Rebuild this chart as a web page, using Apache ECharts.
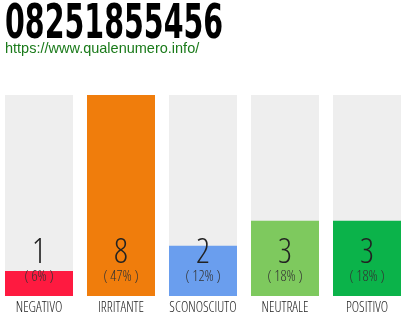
<!DOCTYPE html>
<html><head><meta charset="utf-8">
<style>html,body{margin:0;padding:0;background:#fff}#c{width:410px;height:320px}</style>
<script src="https://cdn.jsdelivr.net/npm/echarts@6/dist/echarts.min.js"></script>
</head><body><div id="c"></div>
<script>
var titleText = '08251855456';
var linkText = 'https://www.qualenumero.info/';
var categories = ['NEGATIVO', 'IRRITANTE', 'SCONOSCIUTO', 'NEUTRALE', 'POSITIVO'];
var values = [1, 8, 2, 3, 3];
var percents = ['6%', '47%', '12%', '18%', '18%'];
var colors = ['#fe1a40', '#f07d0c', '#6a9eee', '#7ec95e', '#0bb34a'];

var cond = '"DejaVu Sans Condensed", sans-serif';
var thin = '"Open Sans", "DejaVu Sans Condensed", sans-serif';
var chart = echarts.init(document.getElementById('c'), null, {renderer: 'canvas'});
chart.setOption({
  animation: false,
  grid: {left: -2, width: 410, top: 95, bottom: 24, containLabel: false, outerBoundsMode: 'none'},
  xAxis: {
    type: 'category', data: categories,
    axisLine: {show: false}, axisTick: {show: false},
    axisLabel: {interval: 0, margin: 5, color: '#222', fontFamily: thin, fontWeight: '300 condensed', fontSize: 14}
  },
  yAxis: {type: 'value', min: 0, max: 8, show: false, splitLine: {show: false}},
  graphic: [
    {type: 'text', left: 5, top: 2, scaleX: 0.66,
      style: {text: titleText, font: 'bold 48px ' + cond, fill: '#000'}},
    {type: 'text', left: 5, top: 41,
      style: {text: linkText, font: '14.5px "Liberation Sans"', fill: '#1a7a1a'}}
  ],
  series: [{
    type: 'bar', barWidth: 68,
    showBackground: true, backgroundStyle: {color: '#eeeeee'},
    data: values.map(function (v, i) { return {value: v, itemStyle: {color: colors[i]}}; }),
    label: {
      show: true, position: 'insideBottom', distance: 10,
      formatter: function (p) { return '{a|' + values[p.dataIndex] + '}\n{b|( ' + percents[p.dataIndex] + ' )}'; },
      rich: {
        a: {fontFamily: thin, fontWeight: '300 condensed', fontSize: 34, color: '#222', lineHeight: 30},
        b: {fontFamily: thin, fontWeight: '300 condensed', fontSize: 15, color: '#333', lineHeight: 18}
      }
    }
  }]
});
</script></body></html>
